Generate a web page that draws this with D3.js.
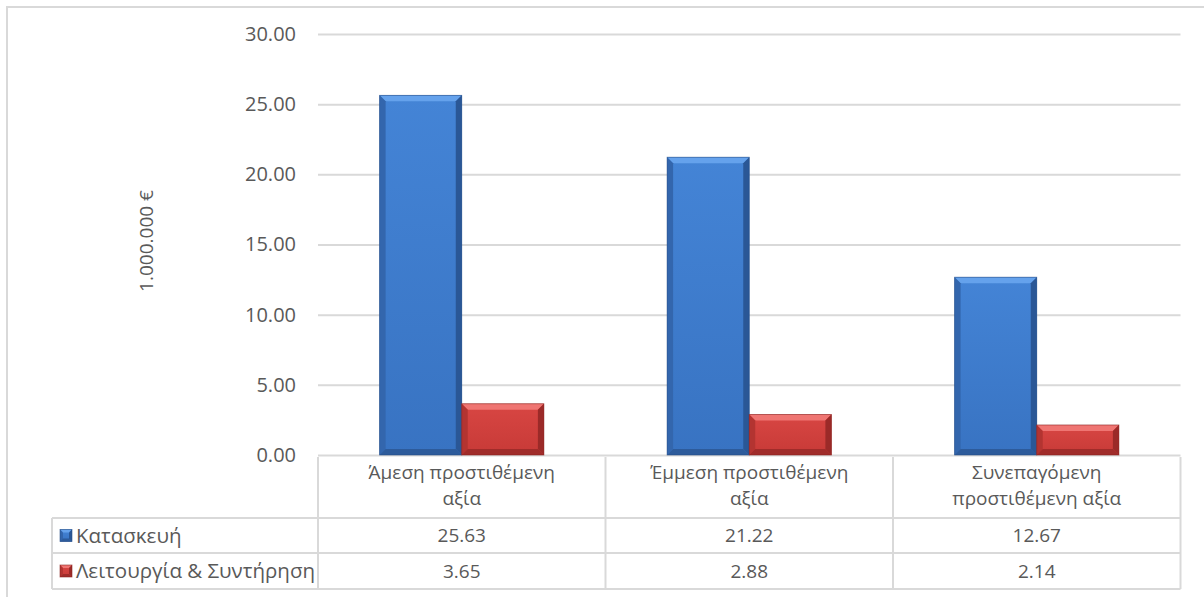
<!DOCTYPE html>
<html>
<head>
<meta charset="utf-8">
<script src="https://cdn.jsdelivr.net/npm/d3@7"></script>
<style>
  html, body { margin: 0; padding: 0; background: #fff; }
  svg { display: block; font-family: "Open Sans", "Noto Sans", sans-serif; }
</style>
</head>
<body>
<svg id="chart" width="1204" height="597"></svg>
<script>
// Categories (two-line labels) and series values, in millions of euro
const categories = ["Άμεση προστιθέμενη αξία", "Έμμεση προστιθέμενη αξία", "Συνεπαγόμενη προστιθέμενη αξία"];
const categoryLines = [["Άμεση προστιθέμενη", "αξία"], ["Έμμεση προστιθέμενη", "αξία"], ["Συνεπαγόμενη", "προστιθέμενη αξία"]];
const seriesNames = ["Κατασκευή", "Λειτουργία & Συντήρηση"];
const construction = [25.63, 21.22, 12.67];
const operation = [3.65, 2.88, 2.14];
const yTicks = [0, 5, 10, 15, 20, 25, 30];
const yTitle = "1.000.000 €";

const seriesValues = [construction, operation];
const textColor = "#595959";
const lineColor = "#d9d9d9";

const svg = d3.select("#chart");

const plotLeft = 318, plotRight = 1180.5, plotTop = 34, plotBottom = 455;
const tableLeft = 52;
const headerBottom = 518, row1Bottom = 553, row2Bottom = 589;

const x = d3.scaleBand().domain(categories).range([plotLeft, plotRight]).paddingInner(0).paddingOuter(0);
const xs = d3.scaleBand().domain(seriesNames).range([0, x.bandwidth()]).paddingInner(0).paddingOuter(0.75);
const y = d3.scaleLinear().domain([0, 30]).range([plotBottom, plotTop]);

// bar fill palettes: body gradient, four bevel faces, outline
const palettes = [
  { top: "#4484d6", bottom: "#3873c2", bevelT: "#65a2ec", bevelL: "#3366ad", bevelR: "#2a5796", bevelB: "#2d5b9b", stroke: "#254c84" },
  { top: "#d84643", bottom: "#c73a37", bevelT: "#ef7572", bevelL: "#b33431", bevelR: "#9b2a28", bevelB: "#a02c2a", stroke: "#872220" }
];

const defs = svg.append("defs");
palettes.forEach((p, i) => {
  const g = defs.append("linearGradient").attr("id", "grad" + i).attr("x1", 0).attr("y1", 0).attr("x2", 0).attr("y2", 1);
  g.append("stop").attr("offset", "0%").attr("stop-color", p.top);
  g.append("stop").attr("offset", "100%").attr("stop-color", p.bottom);
});

// outer chart frame
svg.append("path")
  .attr("d", "M7,597 L7,7 L1204,7")
  .attr("fill", "none").attr("stroke", lineColor).attr("stroke-width", 2);

// horizontal gridlines
svg.append("g")
  .attr("transform", `translate(${plotLeft},0)`)
  .call(d3.axisLeft(y).tickValues(yTicks).tickSize(-(plotRight - plotLeft)).tickFormat(""))
  .call(g => g.select(".domain").remove())
  .call(g => g.selectAll("line").attr("stroke", lineColor).attr("stroke-width", 2));

// y tick labels
svg.append("g")
  .attr("transform", `translate(${plotLeft},0)`)
  .call(d3.axisLeft(y).tickValues(yTicks).tickSize(0).tickPadding(22).tickFormat(d3.format(".2f")))
  .call(g => g.select(".domain").remove())
  .call(g => g.selectAll("text").attr("fill", textColor).style("font-size", "20px").style("font-family", "'Open Sans', sans-serif"));

// y axis title
svg.append("text")
  .attr("transform", `translate(153,${241}) rotate(-90)`)
  .attr("text-anchor", "middle")
  .attr("fill", textColor)
  .style("font-size", "19px")
  .text(yTitle);

// beveled bar
function bevelBar(sel, x0, y0, w, h, p, b, gid) {
  const x1 = x0 + w, y1 = y0 + h;
  const bb = Math.min(b, h / 2, w / 2);
  sel.append("rect").attr("x", x0).attr("y", y0).attr("width", w).attr("height", h).attr("fill", `url(#${gid})`);
  sel.append("polygon").attr("points", [[x0, y0], [x1, y0], [x1 - bb, y0 + bb], [x0 + bb, y0 + bb]].join(" ")).attr("fill", p.bevelT);
  sel.append("polygon").attr("points", [[x0, y0], [x0 + bb, y0 + bb], [x0 + bb, y1 - bb], [x0, y1]].join(" ")).attr("fill", p.bevelL);
  sel.append("polygon").attr("points", [[x1, y0], [x1 - bb, y0 + bb], [x1 - bb, y1 - bb], [x1, y1]].join(" ")).attr("fill", p.bevelR);
  sel.append("polygon").attr("points", [[x0, y1], [x0 + bb, y1 - bb], [x1 - bb, y1 - bb], [x1, y1]].join(" ")).attr("fill", p.bevelB);
  sel.append("rect").attr("x", x0).attr("y", y0).attr("width", w).attr("height", h)
    .attr("fill", "none").attr("stroke", p.stroke).attr("stroke-width", 0.8).attr("stroke-opacity", 0.7);
}

// bars
const barsG = svg.append("g");
categories.forEach((c, ci) => {
  seriesNames.forEach((s, si) => {
    const v = seriesValues[si][ci];
    const bx = x(c) + xs(s);
    const by = y(v);
    bevelBar(barsG.append("g"), bx, by, xs.bandwidth(), y(0) - by, palettes[si], 6, "grad" + si);
  });
});

// data table grid
const tbl = svg.append("g").attr("stroke", lineColor).attr("stroke-width", 2).attr("fill", "none");
const colEdges = categories.map(c => x(c)).concat([x(categories[categories.length - 1]) + x.bandwidth()]);
colEdges.forEach(cx => {
  tbl.append("line").attr("x1", cx).attr("x2", cx).attr("y1", plotBottom + 2).attr("y2", row2Bottom);
});
tbl.append("line").attr("x1", tableLeft).attr("x2", tableLeft).attr("y1", headerBottom).attr("y2", row2Bottom);
[headerBottom, row1Bottom, row2Bottom].forEach(ry => {
  tbl.append("line").attr("x1", tableLeft).attr("x2", plotRight).attr("y1", ry).attr("y2", ry);
});

// category labels in header row
const hdr = svg.append("g").attr("fill", textColor).style("font-size", "19px").attr("text-anchor", "middle");
categories.forEach((c, ci) => {
  const cx = x(c) + x.bandwidth() / 2;
  categoryLines[ci].forEach((line, li) => {
    hdr.append("text").attr("x", cx).attr("y", 479 + li * 26).text(line);
  });
});

// value rows with legend keys
const rowTops = [headerBottom, row1Bottom];
const rowBottoms = [row1Bottom, row2Bottom];
const fmt = d3.format(".2f");
seriesNames.forEach((s, si) => {
  const cy = (rowTops[si] + rowBottoms[si]) / 2;
  bevelBar(svg.append("g"), 60, cy - 6, 12, 12, palettes[si], 3, "grad" + si);
  svg.append("text").attr("x", 76).attr("y", cy).attr("dy", "0.35em")
    .attr("fill", textColor).style("font-size", "20.5px").text(s);
  categories.forEach((c, ci) => {
    svg.append("text").attr("x", x(c) + x.bandwidth() / 2).attr("y", cy).attr("dy", "0.35em")
      .attr("text-anchor", "middle").attr("fill", textColor).style("font-size", "19px")
      .text(fmt(seriesValues[si][ci]));
  });
});
</script>
</body>
</html>
